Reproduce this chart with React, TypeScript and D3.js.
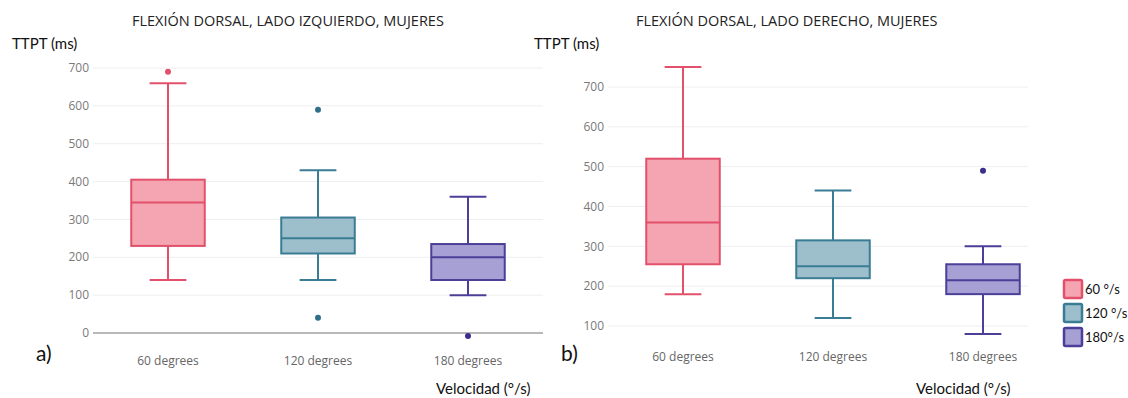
import * as d3 from "d3";

const categories = ["60 degrees", "120 degrees", "180 degrees"];
const legendLabels = ["60 °/s", "120 °/s", "180°/s"];
const strokeColors = ["#e2506b", "#3a7c94", "#4b3f98"];
const fillColors = ["#f4a5b1", "#9cbfcb", "#a6a0d4"];
const dotColors = ["#e2506b", "#2f7089", "#3a2f8c"];
const yTicks = [0, 100, 200, 300, 400, 500, 600, 700];

// lado izquierdo
const leftLower = [140, 140, 100];
const leftQ1 = [230, 210, 140];
const leftMedian = [345, 250, 200];
const leftQ3 = [405, 305, 235];
const leftUpper = [660, 430, 360];
const leftOutliers = [[690], [590, 40], [-8]];

// lado derecho
const rightLower = [180, 120, 80];
const rightQ1 = [255, 220, 180];
const rightMedian = [360, 250, 215];
const rightQ3 = [520, 315, 255];
const rightUpper = [750, 440, 300];
const rightOutliers = [[], [], [490]];

const W = 1128;
const H = 398;
const tickFont = "'Open Sans', sans-serif";
const wordFont = "Lato, 'Open Sans', sans-serif";

type PanelProps = {
  title: string;
  tag: string;
  x: d3.ScaleBand<string>;
  y: d3.ScaleLinear<number, number>;
  ticks: number[];
  gridEnd: number;
  zeroLine: boolean;
  lower: number[];
  q1: number[];
  median: number[];
  q3: number[];
  upper: number[];
  outliers: number[][];
  titleX: number;
  yLabelX: number;
  tagX: number;
  velX: number;
  catY: number;
};

function Panel(p: PanelProps) {
  const [x0] = p.x.range();
  const bw = p.x.bandwidth() * 0.49;
  return (
    <g>
      {p.ticks.map((t) => (
        <g key={t}>
          {!(p.zeroLine && t === 0) && (
            <line x1={x0} x2={p.gridEnd} y1={p.y(t)} y2={p.y(t)} stroke="#eeeeee" strokeWidth={1} />
          )}
          <text
            x={x0 - 4}
            y={p.y(t)}
            dy="0.35em"
            textAnchor="end"
            fontFamily={tickFont}
            fontSize={12}
            fill="#7a7a7a"
          >
            {t}
          </text>
        </g>
      ))}
      {p.zeroLine && (
        <line x1={x0} x2={p.gridEnd} y1={p.y(0)} y2={p.y(0)} stroke="#a0a0a0" strokeWidth={1.6} />
      )}
      {categories.map((c, i) => {
        const cx = (p.x(c) ?? 0) + p.x.bandwidth() / 2;
        return (
          <g key={c}>
            <line x1={cx} x2={cx} y1={p.y(p.upper[i])} y2={p.y(p.q3[i])} stroke={strokeColors[i]} strokeWidth={2} />
            <line x1={cx} x2={cx} y1={p.y(p.q1[i])} y2={p.y(p.lower[i])} stroke={strokeColors[i]} strokeWidth={2} />
            <line x1={cx - bw / 4} x2={cx + bw / 4} y1={p.y(p.upper[i])} y2={p.y(p.upper[i])} stroke={strokeColors[i]} strokeWidth={2} />
            <line x1={cx - bw / 4} x2={cx + bw / 4} y1={p.y(p.lower[i])} y2={p.y(p.lower[i])} stroke={strokeColors[i]} strokeWidth={2} />
            <rect
              x={cx - bw / 2}
              y={p.y(p.q3[i])}
              width={bw}
              height={p.y(p.q1[i]) - p.y(p.q3[i])}
              fill={fillColors[i]}
              stroke={strokeColors[i]}
              strokeWidth={2}
            />
            <line x1={cx - bw / 2} x2={cx + bw / 2} y1={p.y(p.median[i])} y2={p.y(p.median[i])} stroke={strokeColors[i]} strokeWidth={2} />
            {p.outliers[i].map((v, k) => (
              <circle key={k} cx={cx} cy={p.y(v)} r={3} fill={dotColors[i]} />
            ))}
            <text x={cx} y={p.catY} dy="0.35em" textAnchor="middle" fontFamily={tickFont} fontSize={12} fill="#666">
              {c}
            </text>
          </g>
        );
      })}
      <text x={p.titleX} y={21} dy="0.35em" fontFamily={tickFont} fontSize={14.5} fill="#222">
        {p.title}
      </text>
      <text x={p.yLabelX} y={44} dy="0.35em" fontFamily={wordFont} fontSize={15} fill="#111">
        TTPT (ms)
      </text>
      <text x={p.tagX} y={354} dy="0.35em" fontFamily={wordFont} fontSize={21} fill="#111">
        {p.tag}
      </text>
      <text x={p.velX} y={389} dy="0.35em" fontFamily={wordFont} fontSize={15} fill="#111">
        Velocidad (°/s)
      </text>
    </g>
  );
}

export default function App() {
  const xLeft = d3.scaleBand<string>().domain(categories).range([93, 543]);
  const yLeft = d3.scaleLinear().domain([0, 700]).range([333, 68]);
  const xRight = d3.scaleBand<string>().domain(categories).range([608, 1058]);
  const yRight = d3.scaleLinear().domain([100, 700]).range([326, 87]);

  return (
    <svg
      width={W}
      height={H}
      style={{ position: "absolute", left: 0, top: 0, background: "#fff" }}
    >
      <Panel
        title="FLEXIÓN DORSAL, LADO IZQUIERDO, MUJERES"
        tag="a)"
        x={xLeft}
        y={yLeft}
        ticks={yTicks}
        gridEnd={543}
        zeroLine={true}
        lower={leftLower}
        q1={leftQ1}
        median={leftMedian}
        q3={leftQ3}
        upper={leftUpper}
        outliers={leftOutliers}
        titleX={132}
        yLabelX={12}
        tagX={36}
        velX={436}
        catY={361}
      />
      <Panel
        title="FLEXIÓN DORSAL, LADO DERECHO, MUJERES"
        tag="b)"
        x={xRight}
        y={yRight}
        ticks={yTicks.filter((t) => t > 0)}
        gridEnd={1028}
        zeroLine={false}
        lower={rightLower}
        q1={rightQ1}
        median={rightMedian}
        q3={rightQ3}
        upper={rightUpper}
        outliers={rightOutliers}
        titleX={636}
        yLabelX={534}
        tagX={561}
        velX={916}
        catY={357}
      />
      {legendLabels.map((l, i) => (
        <g key={l} transform={`translate(1064, ${280 + i * 24})`}>
          <rect x={0} y={0} width={18} height={18} rx={1.5} fill={fillColors[i]} stroke={strokeColors[i]} strokeWidth={2.5} />
          <text x={21} y={9} dy="0.35em" fontFamily={wordFont} fontSize={13} fill="#111">
            {l}
          </text>
        </g>
      ))}
    </svg>
  );
}
